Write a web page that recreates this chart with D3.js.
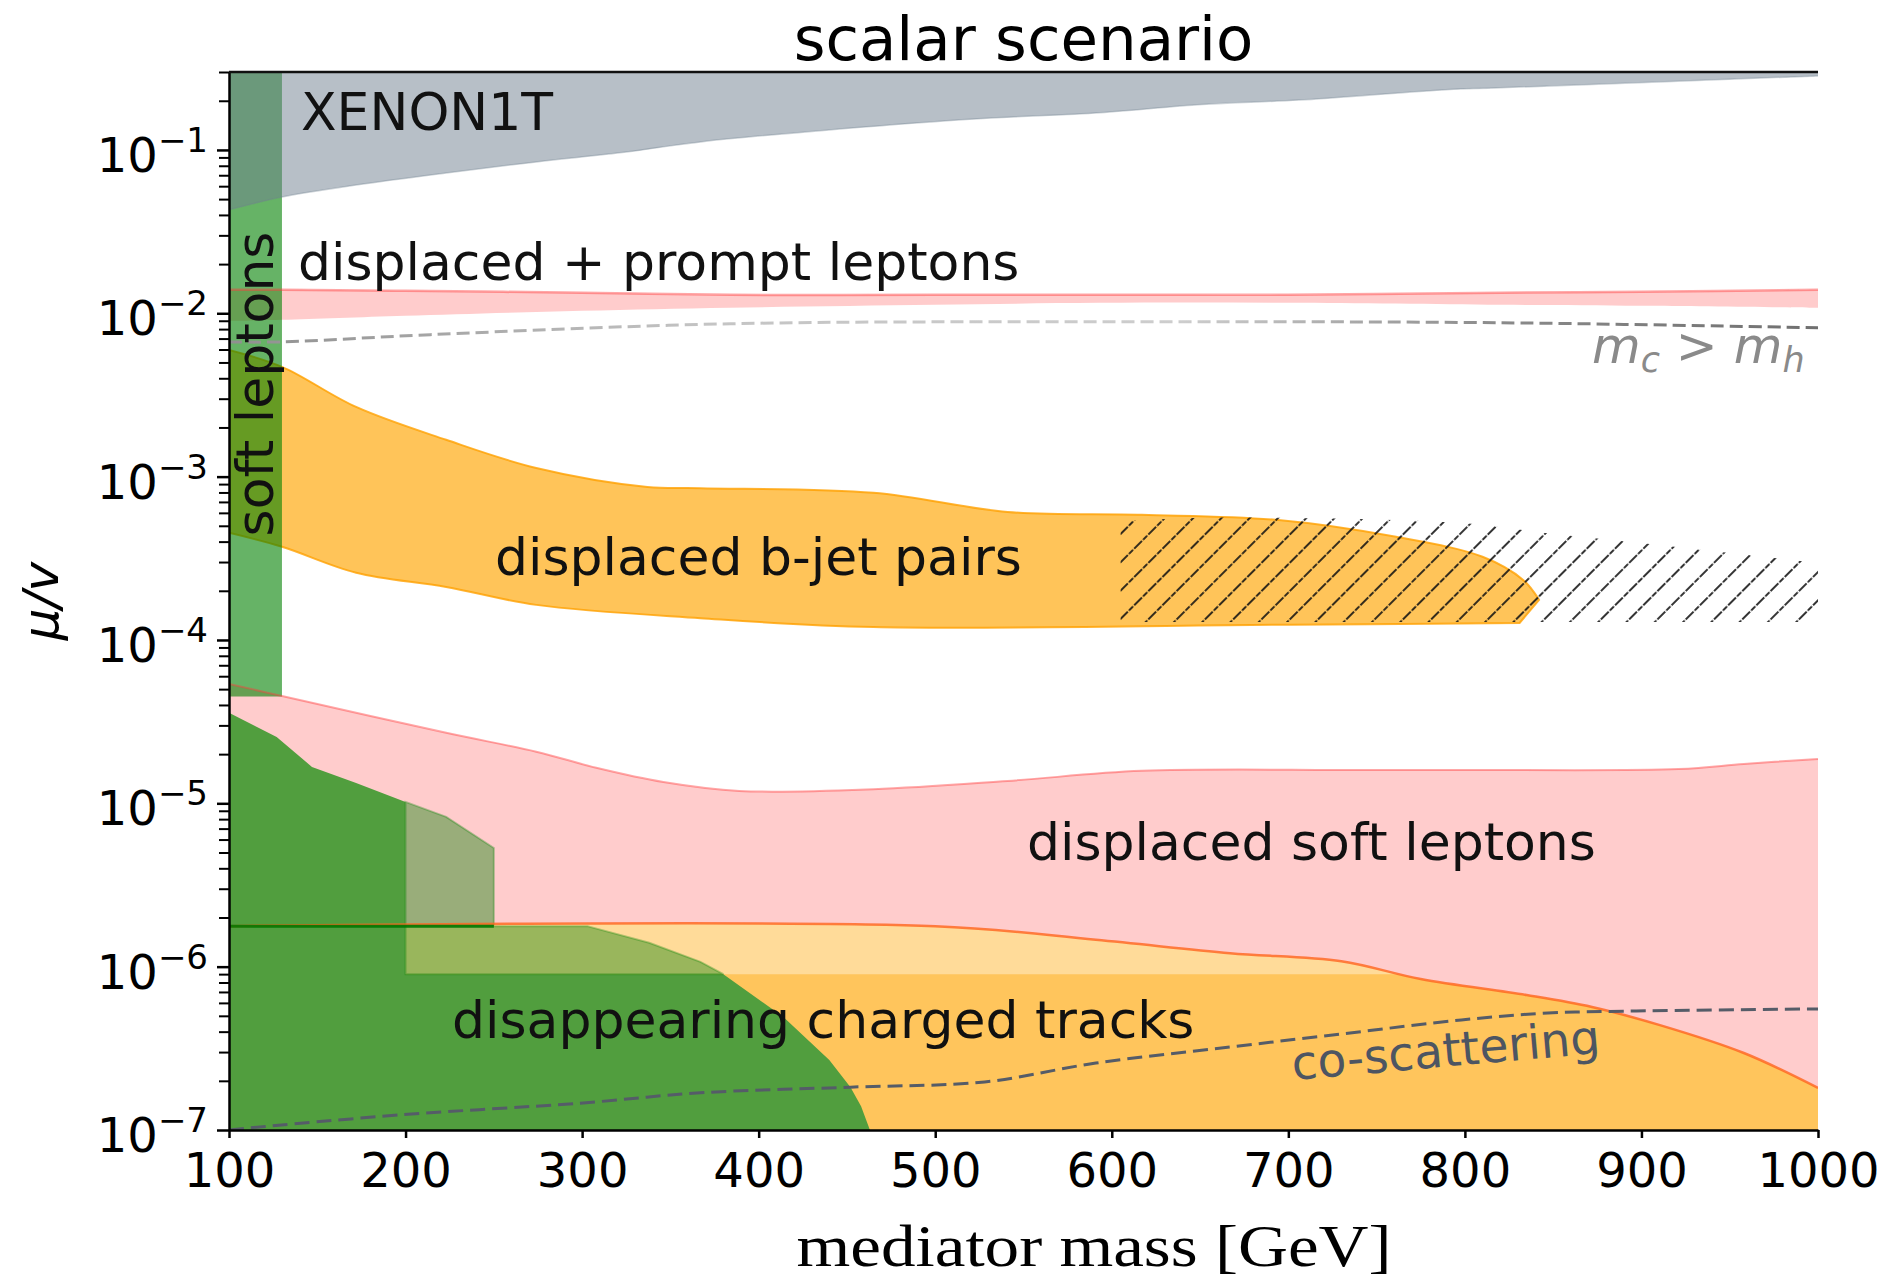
<!DOCTYPE html>
<html lang="en">
<head>
<meta charset="utf-8">
<title>scalar scenario</title>
<script src="https://d3js.org/d3.v7.min.js"></script>
<style>
  body { margin: 0; background: #fff; }
  text { font-family: "DejaVu Sans", sans-serif; }
</style>
</head>
<body>
<script>
// ---- data (mass in GeV, mu/v) ----
var xTicks = [100, 200, 300, 400, 500, 600, 700, 800, 900, 1000];
var yExp = [-7, -6, -5, -4, -3, -2, -1];

// XENON1T: excluded above this curve
var xenonM = [100, 130, 172, 223, 274, 325, 367, 515, 593, 651, 706, 787, 820, 1000];
var xenonLow = [0.043, 0.0515, 0.061, 0.0723, 0.0845, 0.097, 0.112, 0.153, 0.169, 0.190, 0.202, 0.233, 0.240, 0.284];

// soft leptons vertical band
var softLepM = [100, 130];
var softLepV = [4.5e-5, 0.3];

// displaced + prompt leptons
var promptM = [100, 130, 200, 300, 384, 500, 593, 700, 820, 900, 1000];
var promptHigh = [0.01393, 0.01393, 0.01374, 0.01335, 0.01297, 0.01297, 0.01297, 0.01297, 0.01335, 0.01355, 0.01393];
var promptLow = [0.00899, 0.00912, 0.00966, 0.01035, 0.01081, 0.01127, 0.01159, 0.01159, 0.01127, 0.01112, 0.01081];

// m_c > m_h line
var mcmhM = [100, 130, 214, 384, 593, 820, 1000];
var mcmhV = [6.68e-3, 6.68e-3, 7.4e-3, 8.63e-3, 8.87e-3, 8.75e-3, 8.15e-3];

// displaced b-jet pairs
var bjetTopM = [100, 130, 172, 223, 274, 337, 367, 465, 541, 617, 693, 761, 810, 833, 842];
var bjetTopV = [5.97e-3, 4.70e-3, 2.67e-3, 1.68e-3, 1.13e-3, 8.65e-4, 8.5e-4, 7.96e-4, 6.08e-4, 5.84e-4, 5.44e-4, 4.28e-4, 3.23e-4, 2.33e-4, 1.76e-4];
var bjetLowM = [100, 130, 172, 223, 274, 367, 465, 700, 831];
var bjetLowV = [4.53e-4, 3.72e-4, 2.58e-4, 2.11e-4, 1.64e-4, 1.36e-4, 1.20e-4, 1.24e-4, 1.27e-4];

// hatched projection
var hatchM = [605, 650, 798, 847, 921, 1000];
var hatchTop = [5.3e-4, 5.6e-4, 5.2e-4, 4.5e-4, 3.7e-4, 2.96e-4];
var hatchLow = 1.29e-4;

// displaced soft leptons (upper edge), lower edge shared with the orange region below
var dslTopM = [100, 130, 223, 274, 308, 346, 389, 465, 541, 617, 735, 798, 921, 958, 1000];
var dslTopV = [5.38e-5, 4.54e-5, 2.70e-5, 2.07e-5, 1.65e-5, 1.35e-5, 1.19e-5, 1.22e-5, 1.37e-5, 1.58e-5, 1.60e-5, 1.60e-5, 1.62e-5, 1.74e-5, 1.87e-5];
var dslLowM = [100, 500, 591, 667, 730, 775, 835, 872, 910, 958, 1000];
var dslLowV = [1.77e-6, 1.77e-6, 1.46e-6, 1.21e-6, 1.08e-6, 8.4e-7, 6.7e-7, 5.66e-7, 4.4e-7, 2.96e-7, 1.81e-7];
var paleCut = 9e-7;
var floorV = 1e-7;

// disappearing charged tracks
var dctTopM = [100, 127, 147, 172, 200, 223, 250];
var dctTopV = [3.58e-5, 2.55e-5, 1.67e-5, 1.33e-5, 1.02e-5, 8.26e-6, 5.33e-6];
var dctEdgeM = [100, 303, 338, 367, 380, 414, 440, 452, 458, 463];
var dctEdgeV = [1.77e-6, 1.77e-6, 1.40e-6, 1.07e-6, 9.0e-7, 4.92e-7, 2.68e-7, 1.83e-7, 1.40e-7, 1e-7];
var dctSplitM = 200;
var dctStepM = 250;

// co-scattering line
var coscatM = [100, 112, 198, 299, 367, 452, 528, 591, 667, 735, 798, 847, 897, 1000];
var coscatV = [1e-7, 1.03e-7, 1.24e-7, 1.46e-7, 1.69e-7, 1.83e-7, 1.97e-7, 2.57e-7, 3.22e-7, 3.93e-7, 4.72e-7, 5.2e-7, 5.35e-7, 5.51e-7];

// ---- chart ----
var W = 1883, H = 1283;
var x = d3.scaleLinear().domain([100, 1000]).range([229, 1818]);
var y = d3.scaleLog().domain([1e-7, 0.3]).range([1130, 72]);

var svg = d3.select("body").append("svg")
	.attr("width", W)
	.attr("height", H);

var defs = svg.append("defs");
defs.append("clipPath").attr("id", "plot")
	.append("rect")
	.attr("x", x(100)).attr("y", y(0.3))
	.attr("width", x(1000) - x(100)).attr("height", y(1e-7) - y(0.3));
defs.append("clipPath").attr("id", "belowCut")
	.append("rect")
	.attr("x", x(100)).attr("y", y(paleCut))
	.attr("width", x(1000) - x(100)).attr("height", y(1e-7) - y(paleCut));

var hatch = defs.append("pattern").attr("id", "hatch")
	.attr("patternUnits", "userSpaceOnUse")
	.attr("width", 20).attr("height", 20)
	.attr("patternTransform", "rotate(45)");
hatch.append("line")
	.attr("x1", 10).attr("y1", 0).attr("x2", 10).attr("y2", 20)
	.attr("stroke", "#111").attr("stroke-width", 1.7)
	.attr("stroke-dasharray", "6 1.5");

var grad = defs.append("linearGradient").attr("id", "mcmhGrad")
	.attr("gradientUnits", "userSpaceOnUse")
	.attr("x1", x(100)).attr("x2", x(1000)).attr("y1", 0).attr("y2", 0);
grad.append("stop").attr("offset", "0%").attr("stop-color", "#8f8f8f");
grad.append("stop").attr("offset", "30%").attr("stop-color", "#c4c4c4");
grad.append("stop").attr("offset", "60%").attr("stop-color", "#cdcdcd");
grad.append("stop").attr("offset", "80%").attr("stop-color", "#8a8a8a");
grad.append("stop").attr("offset", "100%").attr("stop-color", "#707070");

function pts(ms, vs) {
	return ms.map(function(m, i) { return [x(m), y(vs[i])]; });
}
var smooth = d3.line().curve(d3.curveCatmullRom.alpha(0.5));
function closed(p) { return d3.line()(p) + "Z"; }
// smooth band between two curves, each given left to right
function between(mTop, vTop, mLow, vLow) {
	var a = smooth(pts(mTop, vTop));
	var b = smooth(pts(mLow, vLow).reverse());
	return a + "L" + b.slice(1) + "Z";
}
function flat(ms, v) { return ms.map(function() { return v; }); }

var g = svg.append("g").attr("clip-path", "url(#plot)");

// displaced soft leptons (pink)
g.append("path")
	.attr("d", between(dslTopM, dslTopV, dslLowM, dslLowV))
	.attr("fill", "rgba(255,0,0,0.2)");

// displaced + prompt leptons
g.append("path")
	.attr("d", between(promptM, promptHigh, promptM, promptLow))
	.attr("fill", "rgba(255,0,0,0.2)");

// displaced b-jet pairs
g.append("path")
	.attr("d", between(bjetTopM, bjetTopV, bjetLowM, bjetLowV))
	.attr("fill", "rgba(255,165,0,0.65)")
	.attr("stroke", "rgba(255,160,0,0.8)")
	.attr("stroke-width", 2);

// lower orange region: two layers, the second only below the cut
var lowOrange = between(dslLowM, dslLowV, [100, 1000], [floorV, floorV]);
g.append("path").attr("d", lowOrange).attr("fill", "rgba(255,165,0,0.4)");
g.append("path").attr("d", lowOrange).attr("fill", "rgba(255,165,0,0.4)")
	.attr("clip-path", "url(#belowCut)");

// soft leptons band
g.append("path")
	.attr("d", closed(pts([100, 130, 130, 100], [softLepV[1], softLepV[1], softLepV[0], softLepV[0]])))
	.attr("fill", "rgba(0,128,0,0.6)");

// XENON1T
g.append("path")
	.attr("d", between(xenonM, flat(xenonM, 0.3), xenonM, xenonLow))
	.attr("fill", "rgba(112,128,144,0.5)");
g.append("path")
	.attr("d", smooth(pts(xenonM, xenonLow)))
	.attr("fill", "none")
	.attr("stroke", "rgba(112,128,144,0.35)")
	.attr("stroke-width", 1.5);

// disappearing charged tracks, dark part
var darkPts = pts(dctTopM.filter(function(m) { return m <= dctSplitM; }),
		dctTopV.filter(function(v, i) { return dctTopM[i] <= dctSplitM; }))
	.concat([[x(dctSplitM), y(paleCut)]])
	.concat(pts(dctEdgeM.filter(function(m, i) { return dctEdgeV[i] <= paleCut; }),
		dctEdgeV.filter(function(v) { return v <= paleCut; })))
	.concat([[x(100), y(floorV)]]);
g.append("path").attr("d", closed(darkPts))
	.attr("fill", "#519e3e");

// light overlay part
var lightPts = pts(dctTopM.filter(function(m) { return m >= dctSplitM; }),
		dctTopV.filter(function(v, i) { return dctTopM[i] >= dctSplitM; }))
	.concat([[x(dctStepM), y(dctEdgeV[0])]])
	.concat(pts(dctEdgeM.filter(function(m, i) { return m > dctStepM && dctEdgeV[i] >= paleCut; }),
		dctEdgeV.filter(function(v, i) { return dctEdgeM[i] > dctStepM && v >= paleCut; })))
	.concat([[x(dctSplitM), y(paleCut)]]);
g.append("path").attr("d", closed(lightPts))
	.attr("fill", "rgba(0,128,0,0.4)")
	.attr("stroke", "rgba(0,128,0,0.3)")
	.attr("stroke-width", 2);

// hatched region
g.append("path")
	.attr("d", between(hatchM, hatchTop, hatchM, flat(hatchM, hatchLow)))
	.attr("fill", "url(#hatch)");

// edges
g.append("path").attr("d", smooth(pts(dslTopM, dslTopV)))
	.attr("fill", "none").attr("stroke", "rgba(255,60,60,0.45)").attr("stroke-width", 2);
g.append("path").attr("d", smooth(pts(promptM, promptHigh)))
	.attr("fill", "none").attr("stroke", "rgba(255,60,60,0.45)").attr("stroke-width", 2.5);
g.append("path").attr("d", smooth(pts(dslLowM, dslLowV)))
	.attr("fill", "none").attr("stroke", "rgba(255,100,30,0.8)").attr("stroke-width", 2.5);

g.append("line")
	.attr("x1", x(100)).attr("x2", x(dctStepM))
	.attr("y1", y(dctEdgeV[0])).attr("y2", y(dctEdgeV[0]))
	.attr("stroke", "rgba(0,120,0,0.9)")
	.attr("stroke-width", 3);

// dashed lines
g.append("path").attr("d", smooth(pts(mcmhM, mcmhV)))
	.attr("fill", "none").attr("stroke", "url(#mcmhGrad)")
	.attr("stroke-width", 3).attr("stroke-dasharray", "13 6");
g.append("path").attr("d", smooth(pts(coscatM, coscatV)))
	.attr("fill", "none").attr("stroke", "#555c68")
	.attr("stroke-width", 3).attr("stroke-dasharray", "15 7");

// ---- axes ----
var xAxis = svg.append("g")
	.attr("transform", "translate(0," + y(1e-7) + ")")
	.call(d3.axisBottom(x).tickValues(xTicks).tickFormat(d3.format("d"))
		.tickSize(8).tickSizeOuter(0).tickPadding(15));
xAxis.selectAll("text").attr("font-size", 48).attr("font-family", "DejaVu Sans").attr("fill", "#000");

var yMinor = [];
yExp.forEach(function(k) {
	for (var j = 2; j <= 9; j++) {
		var v = j * Math.pow(10, k);
		if (v <= 0.3001) yMinor.push(v);
	}
});
var yMajor = yExp.map(function(k) { return Math.pow(10, k); });

svg.append("g")
	.attr("transform", "translate(" + x(100) + ",0)")
	.call(d3.axisLeft(y).tickValues(yMinor).tickSize(10).tickSizeOuter(0).tickFormat(""))
	.call(function(a) { a.select(".domain").remove(); a.selectAll("line").attr("stroke-width", 2).attr("stroke", "#000"); });

var yAxis = svg.append("g")
	.attr("transform", "translate(" + x(100) + ",0)")
	.call(d3.axisLeft(y).tickValues(yMajor).tickSize(12).tickSizeOuter(0).tickFormat(""));

[xAxis, yAxis].forEach(function(a) {
	a.select(".domain").attr("stroke-width", 2.5).attr("stroke", "#000");
	a.selectAll(".tick line").attr("stroke", "#000").attr("stroke-width", 2.5);
});

var yLab = svg.append("g");
yExp.forEach(function(k) {
	var t = yLab.append("text")
		.attr("x", 208)
		.attr("y", y(Math.pow(10, k)) + 22)
		.attr("text-anchor", "end")
		.attr("font-size", 48);
	t.append("tspan").text("10");
	t.append("tspan").attr("dy", -20).attr("font-size", 34).text("\u2212" + (-k));
});

// top spine
svg.append("line")
	.attr("x1", x(100)).attr("x2", x(1000))
	.attr("y1", y(0.3)).attr("y2", y(0.3))
	.attr("stroke", "#111").attr("stroke-width", 2.5);

// ---- titles ----
svg.append("text")
	.attr("x", (x(100) + x(1000)) / 2).attr("y", 60)
	.attr("text-anchor", "middle").attr("font-size", 61)
	.text("scalar scenario");

svg.append("text")
	.attr("x", 1094).attr("y", 1266)
	.attr("text-anchor", "middle")
	.style("font-family", "'Liberation Serif', serif")
	.attr("font-size", 60)
	.attr("textLength", 595).attr("lengthAdjust", "spacingAndGlyphs")
	.text("mediator mass [GeV]");

svg.append("text")
	.attr("transform", "translate(58," + ((y(0.3) + y(1e-7)) / 2) + ") rotate(-90)")
	.attr("text-anchor", "middle").attr("font-size", 50).attr("font-style", "italic")
	.text("\u03bc/v");

// ---- region labels ----
var labels = svg.append("g").attr("font-size", 52).attr("fill", "#111");
labels.append("text").attr("x", 301).attr("y", 130).text("XENON1T");
labels.append("text").attr("x", 298).attr("y", 280).text("displaced + prompt leptons");
labels.append("text").attr("x", 495).attr("y", 575).text("displaced b-jet pairs");
labels.append("text").attr("x", 1027).attr("y", 860).text("displaced soft leptons");
labels.append("text").attr("x", 452).attr("y", 1038).text("disappearing charged tracks");
labels.append("text")
	.attr("transform", "translate(273,384) rotate(-90)")
	.attr("text-anchor", "middle")
	.text("soft leptons");

svg.append("text")
	.attr("transform", "translate(1293,1080) rotate(-5)")
	.attr("font-size", 47).attr("fill", "#4d5562")
	.text("co-scattering");

var mc = svg.append("text")
	.attr("x", 1592).attr("y", 363)
	.attr("font-size", 50).attr("fill", "#8a8a8a");
mc.append("tspan").attr("font-style", "italic").text("m");
mc.append("tspan").attr("font-style", "italic").attr("font-size", 35).attr("dy", 9).text("c");
mc.append("tspan").attr("dy", -9).text(" > ");
mc.append("tspan").attr("font-style", "italic").text("m");
mc.append("tspan").attr("font-style", "italic").attr("font-size", 35).attr("dy", 9).text("h");
</script>
</body>
</html>
